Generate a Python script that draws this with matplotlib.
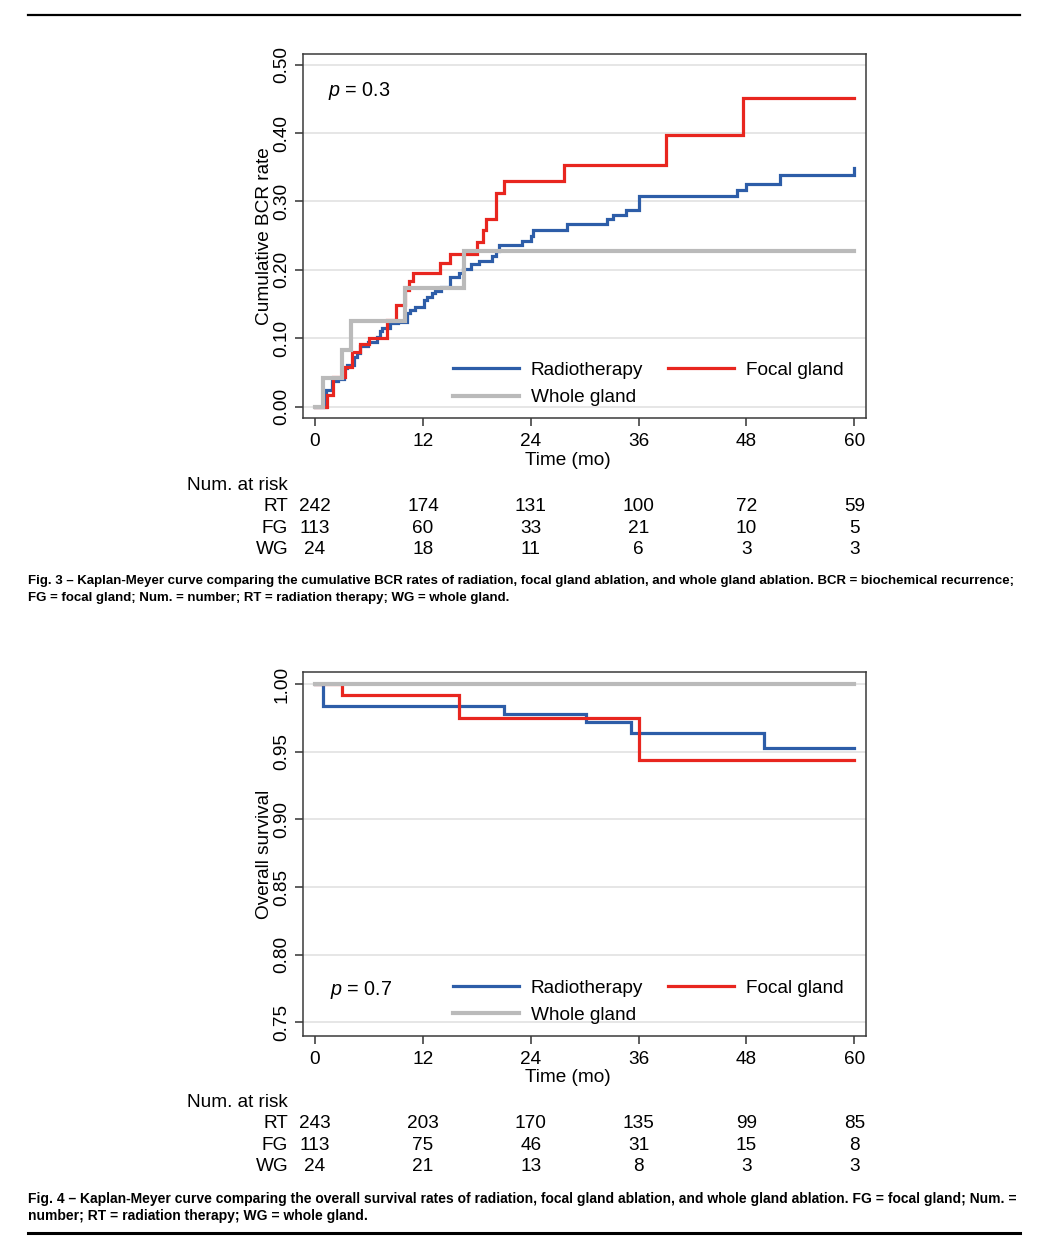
import matplotlib
matplotlib.use('Agg')
import matplotlib.pyplot as plt
from matplotlib import transforms
from matplotlib.lines import Line2D

plt.rcParams['font.family'] = ['Liberation Sans', 'DejaVu Sans']
plt.rcParams['mathtext.fontset'] = 'custom'
plt.rcParams['mathtext.it'] = 'Liberation Sans:italic'
plt.rcParams['mathtext.rm'] = 'Liberation Sans'

BLUE = '#2d5da8'
RED = '#e8261f'
GREY = '#bababa'

months = [0, 12, 24, 36, 48, 60]
groups = ['RT', 'FG', 'WG']
labels = ['Radiotherapy', 'Focal gland', 'Whole gland']

# Fig 3 - cumulative BCR rate (step times in months, values)
bcr_rt_t = [0, 1.2, 1.9, 2.5, 3.2, 3.6, 4.3, 4.7, 5.0, 5.9, 6.9, 7.2, 7.4, 8.3, 9.2,
            10.2, 10.6, 11.1, 12.1, 12.5, 13.0, 13.4, 14.0, 15.0, 16.0, 16.5, 17.4,
            18.2, 19.7, 20.1, 20.5, 23.0, 24.0, 24.3, 28.0, 32.5, 33.2, 34.6, 36.0,
            47.0, 48.0, 51.7, 60.0]
bcr_rt_v = [0, 0.024, 0.037, 0.041, 0.056, 0.061, 0.072, 0.078, 0.089, 0.095, 0.102,
            0.110, 0.115, 0.122, 0.124, 0.137, 0.141, 0.146, 0.156, 0.161, 0.166, 0.169,
            0.175, 0.189, 0.196, 0.201, 0.208, 0.213, 0.220, 0.227, 0.236, 0.242, 0.250,
            0.259, 0.267, 0.274, 0.280, 0.288, 0.308, 0.317, 0.326, 0.339, 0.349]
bcr_fg_t = [0, 1.3, 2.0, 3.3, 4.1, 5.0, 6.0, 8.0, 9.0, 10.0, 10.4, 10.9, 13.9, 15.0,
            18.0, 18.7, 19.0, 20.1, 21.0, 27.7, 39.1, 47.6, 60.0]
bcr_fg_v = [0, 0.017, 0.044, 0.058, 0.080, 0.092, 0.100, 0.127, 0.149, 0.171, 0.183,
            0.195, 0.210, 0.223, 0.241, 0.258, 0.275, 0.312, 0.330, 0.353, 0.397,
            0.451, 0.451]
bcr_wg_t = [0, 0.93, 3.0, 4.0, 10.0, 16.6, 60.0]
bcr_wg_v = [0, 0.042, 0.083, 0.125, 0.173, 0.228, 0.228]

bcr_risk_rt = [242, 174, 131, 100, 72, 59]
bcr_risk_fg = [113, 60, 33, 21, 10, 5]
bcr_risk_wg = [24, 18, 11, 6, 3, 3]

# Fig 4 - overall survival
os_rt_t = [0, 0.93, 21.0, 30.1, 35.1, 50.0, 60.0]
os_rt_v = [1.0, 0.984, 0.978, 0.972, 0.964, 0.953, 0.953]
os_fg_t = [0, 3.0, 16.0, 36.0, 60.0]
os_fg_v = [1.0, 0.992, 0.975, 0.944, 0.944]
os_wg_t = [0, 60.0]
os_wg_v = [1.0, 1.0]

os_risk_rt = [243, 203, 170, 135, 99, 85]
os_risk_fg = [113, 75, 46, 31, 15, 8]
os_risk_wg = [24, 21, 13, 8, 3, 3]

cap3 = ["Fig. 3 \u2013 Kaplan-Meyer curve comparing the cumulative BCR rates of radiation, focal gland ablation, and whole gland ablation. BCR = biochemical recurrence;",
        "FG = focal gland; Num. = number; RT = radiation therapy; WG = whole gland."]
cap4 = ["Fig. 4 \u2013 Kaplan-Meyer curve comparing the overall survival rates of radiation, focal gland ablation, and whole gland ablation. FG = focal gland; Num. =",
        "number; RT = radiation therapy; WG = whole gland."]

W, H = 1063, 1242
FS = 13.7
fig = plt.figure(figsize=(W / 100, H / 100), dpi=100)


def px_axes(left, top, right, bottom):
    return fig.add_axes([left / W, 1 - bottom / H, (right - left) / W, (bottom - top) / H])


def km_panel(ax, curves, yticks, ylim, ylabel, ptxt, pxy, risks):
    hs = []
    for (t, v), col, lw in zip(curves, [BLUE, RED, GREY], [2.3, 2.3, 3.0]):
        h, = ax.step(t, v, where='post', color=col, lw=lw, solid_joinstyle='miter')
        hs.append(h)
    ax.set_xlim(-1.34, 61.3)
    ax.set_ylim(*ylim)
    ax.set_xticks(months)
    ax.set_xticklabels([str(m) for m in months], fontsize=FS)
    ax.set_yticks(yticks)
    ax.set_yticklabels(['%.2f' % y for y in yticks], rotation=90, va='center', fontsize=FS)
    ax.tick_params(axis='both', direction='out', length=6, width=1.1, color='#333333')
    ax.tick_params(axis='x', pad=4.5)
    ax.tick_params(axis='y', pad=3)
    ax.yaxis.grid(True, color='#e2e2e2', lw=1.2)
    ax.set_axisbelow(True)
    for s in ax.spines.values():
        s.set_color('#3a3a3a')
        s.set_linewidth(1.1)
    ax.set_ylabel(ylabel, fontsize=FS, labelpad=0.4)
    ax.set_xlabel('Time (mo)', fontsize=FS)
    ax.xaxis.set_label_coords((568 - 303) / 563, -0.114)
    ax.xaxis.label.set_va('center')
    ax.text(pxy[0], pxy[1], ptxt, transform=ax.transAxes, fontsize=FS + 0.5,
            ha='left', va='center')
    ax.legend([hs[0], hs[2], hs[1]], [labels[0], labels[2], labels[1]], ncol=2,
              loc='upper left', bbox_to_anchor=(0.2664, 0.156), frameon=False,
              handlelength=3.45, handletextpad=0.65, columnspacing=1.3,
              labelspacing=0.52, borderpad=0, borderaxespad=0, fontsize=FS)
    tr = transforms.blended_transform_factory(ax.transData, ax.transAxes)
    ax.text(-3.0, -0.183, 'Num. at risk', transform=tr, ha='right', va='center', fontsize=FS)
    for g, row, y in zip(groups, risks, [-0.241, -0.301, -0.359]):
        ax.text(-3.0, y, g, transform=tr, ha='right', va='center', fontsize=FS)
        for m, n in zip(months, row):
            ax.text(m, y, str(n), transform=tr, ha='center', va='center', fontsize=FS)


ax1 = px_axes(303, 54, 866, 418.5)
km_panel(ax1, [(bcr_rt_t, bcr_rt_v), (bcr_fg_t, bcr_fg_v), (bcr_wg_t, bcr_wg_v)],
         [0, 0.1, 0.2, 0.3, 0.4, 0.5], (-0.0173, 0.5156), 'Cumulative BCR rate',
         '$p$ = 0.3', (0.044, 0.8985), [bcr_risk_rt, bcr_risk_fg, bcr_risk_wg])

ax2 = px_axes(303, 672, 866, 1036)
km_panel(ax2, [(os_rt_t, os_rt_v), (os_fg_t, os_fg_v), (os_wg_t, os_wg_v)],
         [0.75, 0.80, 0.85, 0.90, 0.95, 1.00], (0.740, 1.0089), 'Overall survival',
         '$p$ = 0.7', (0.048, 0.126), [os_risk_rt, os_risk_fg, os_risk_wg])

# captions, first line stretched to the column width
cap_font = ['Liberation Sans Narrow', 'Liberation Sans', 'DejaVu Sans']
renderer = fig.canvas.get_renderer()
for lines, ytop in [(cap3, 581), (cap4, 1199)]:
    t1 = fig.text(28 / W, 1 - ytop / H, lines[0], family=cap_font, weight='bold',
                  fontsize=9.5, ha='left', va='center')
    wpx = t1.get_window_extent(renderer).width
    fs = 9.5 * 992 / wpx
    t1.set_fontsize(fs)
    fig.text(28 / W, 1 - (ytop + 17) / H, lines[1], family=cap_font, weight='bold',
             fontsize=fs, ha='left', va='center')

fig.add_artist(Line2D([28 / W, 1020 / W], [1 - 15 / H, 1 - 15 / H], color='black', lw=1.6))
fig.add_artist(Line2D([28 / W, 1020 / W], [1 - 1233 / H, 1 - 1233 / H], color='black', lw=2.2))

fig.savefig('out.png', dpi=100)
